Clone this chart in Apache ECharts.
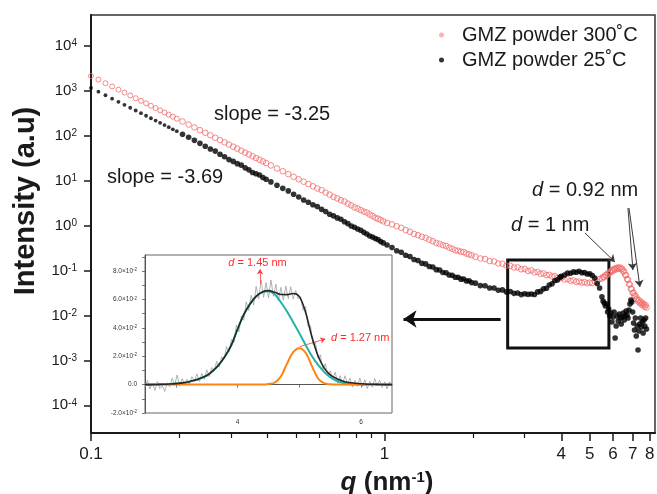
<!DOCTYPE html>
<html><head><meta charset="utf-8">
<script src="https://cdn.jsdelivr.net/npm/echarts@6.0.0/dist/echarts.min.js"></script>
<style>html,body{margin:0;padding:0;background:#fff}#c{width:657px;height:494px}</style>
</head><body><div id="c"></div>
<script>
// ---- main plot data: scattering vector q (nm^-1) and intensities (a.u.) ----
const q = [
  0.100,0.106,0.112,0.118,0.124,0.130,0.136,0.142,0.148,0.154,0.160,0.166,0.172,0.178,0.184,0.190,0.196,
  0.205,0.215,0.225,0.235,0.245,0.255,0.265,0.275,0.285,0.295,0.305,0.315,0.325,0.335,0.345,0.355,0.365,0.375,0.385,0.395,
  0.41,0.43,0.45,0.47,0.49,0.51,0.53,0.55,0.57,0.59,0.61,0.63,0.65,0.67,0.69,0.71,0.73,0.75,0.77,0.79,0.81,0.83,0.85,0.87,0.89,0.91,0.93,0.95,0.97,0.99,
  1.02,1.06,1.10,1.14,1.18,1.22,1.26,1.30,1.34,1.38,1.42,1.46,1.50,1.54,1.58,1.62,1.66,1.70,1.74,1.78,1.82,1.86,1.90,1.94,1.98,
  2.04,2.12,2.20,2.28,2.36,2.44,2.52,2.60,2.68,2.76,2.84,2.92,3.00,3.08,3.16,3.24,3.32,3.40,3.48,3.56,3.64,3.72,3.80,3.88,3.96,
  4.0,4.1,4.2,4.3,4.4,4.5,4.6,4.7,4.8,4.9,5.0,5.1,5.2,5.3,5.4,5.5,
  5.55,5.60,5.65,5.70,5.75,5.80,5.85,5.90,5.95,6.00,6.05,6.10,6.15,6.20,6.25,6.30,6.35,6.40,6.45,6.50,6.55,6.60,6.65,6.70,6.75,6.80,6.85,6.90,6.95,7.00,7.05,7.10,7.15,7.20,7.25,7.30,7.35,7.40,7.45,7.50,7.55,7.60,7.65,7.70,7.75,7.80
];
const intensity300 = [
  2160,1790,1490,1260,1070,920,794,690,603,531,468,416,370,331,297,268,242,
  209,179,155,134,117,103,90.9,80.6,71.8,64.1,57.5,51.8,46.8,42.4,38.6,35.1,32.1,29.4,27.0,24.8,
  22.0,18.8,16.3,14.1,12.3,10.8,9.55,8.47,7.54,6.74,6.20,5.45,4.92,4.38,4.05,3.69,3.46,3.09,2.84,2.55,2.41,2.22,2.06,1.96,1.77,1.65,1.50,1.43,1.34,1.25,
  1.15,1.07,0.970,0.900,0.802,0.731,0.655,0.614,0.566,0.536,0.488,0.452,0.412,0.393,0.368,0.354,0.324,0.306,0.284,0.277,0.264,0.258,0.240,0.229,0.220,
  0.203,0.186,0.181,0.163,0.160,0.144,0.142,0.129,0.128,0.117,0.118,0.107,0.109,0.0985,0.101,0.0915,0.0935,0.0850,0.0868,0.0790,0.0805,0.0738,0.0752,0.0688,0.0700,
  0.0690,0.0632,0.0645,0.0590,0.0605,0.0560,0.0572,0.0538,0.0556,0.0522,0.0540,0.0530,0.0575,0.0572,0.0650,0.0668,
  0.0725,0.0712,0.0790,0.0775,0.0860,0.0845,0.0940,0.0925,0.1030,0.0985,0.1090,0.1040,0.1140,0.1090,0.1180,0.1110,0.1170,0.1070,0.1100,0.0960,0.0965,0.0805,0.0790,0.0650,0.0625,0.0505,0.0490,0.0395,0.0385,0.0318,0.0322,0.0272,0.0278,0.0232,0.0240,0.0205,0.0218,0.0190,0.0204,0.0176,0.0190,0.0166,0.0178,0.0156,0.0170,0.0150
];
const intensity25 = [
  1170,963,803,675,574,491,423,367,320,281,247,219,195,174,156,140,127,
  109,93.3,79.6,68.2,58.9,51.1,45.8,39.1,34.4,29.6,27.0,24.1,22.3,19.4,17.5,15.3,14.3,13.4,11.8,10.8,
  9.45,7.98,6.79,5.95,5.02,4.36,3.72,3.33,2.93,2.66,2.31,2.06,1.80,1.65,1.49,1.39,1.22,1.11,0.985,0.922,0.843,0.790,0.711,0.654,0.590,0.558,0.516,0.490,0.444,0.414,
  0.371,0.325,0.276,0.256,0.219,0.206,0.176,0.168,0.145,0.141,0.123,0.120,0.105,0.103,0.0910,0.0895,0.0795,0.0785,0.0712,0.0712,0.0645,0.0648,0.0588,0.0592,0.0540,
  0.0525,0.0462,0.0458,0.0410,0.0410,0.0366,0.0371,0.0335,0.0341,0.0311,0.0318,0.0292,0.0305,0.0296,0.0300,0.0293,0.0335,0.0344,0.0392,0.0405,0.0476,0.0508,0.0595,0.0620,0.0712,
  0.0745,0.0798,0.0880,0.0872,0.0935,0.0915,0.0965,0.0895,0.0905,0.0842,0.0845,0.0775,0.0680,0.0515,0.0410,0.0262,
  0.0210,0.0190,0.0163,0.0180,0.0120,0.0140,0.00975,0.0114,0.00717,0.00927,0.0120,0.00315,0.00584,0.00975,0.00755,0.0108,0.00880,0.00647,0.00927,0.0114,0.00794,0.00975,0.0126,0.0103,0.00880,0.0133,0.0180,0.0221,0.0200,0.0120,0.00681,0.00475,0.00880,0.00349,0.00584,0.00171,0.00452,0.00647,0.00880,0.00555,0.00717,0.00408,0.00794,0.00584,0.00880,0.00501
];
const xLabelTicks = [0.1, 1, 4, 5, 6, 7, 8];
const xMinorTicks = [0.2, 0.3, 0.4, 0.5, 0.6, 0.7, 0.8, 0.9, 2, 3];
const yTicks = [1e-4, 1e-3, 1e-2, 1e-1, 1, 10, 100, 1000, 10000];
const seriesNames = ['GMZ powder 300˚C', 'GMZ powder 25˚C'];

// ---- inset data ----
const insetQ = [2.50,2.54,2.58,2.62,2.66,2.70,2.74,2.78,2.82,2.86,2.90,2.94,2.98,3.02,3.06,3.10,3.14,3.18,3.22,3.26,3.30,3.34,3.38,3.42,3.46,3.50,3.54,3.58,3.62,3.66,3.70,3.74,3.78,3.82,3.86,3.90,3.94,3.98,4.02,4.06,4.10,4.14,4.18,4.22,4.26,4.30,4.34,4.38,4.42,4.46,4.50,4.54,4.58,4.62,4.66,4.70,4.74,4.78,4.82,4.86,4.90,4.94,4.98,5.02,5.06,5.10,5.14,5.18,5.22,5.26,5.30,5.34,5.38,5.42,5.46,5.50,5.54,5.58,5.62,5.66,5.70,5.74,5.78,5.82,5.86,5.90,5.94,5.98,6.02,6.06,6.10,6.14,6.18,6.22,6.26,6.30,6.34,6.38,6.42,6.46,6.50];
const insetMeasured = [-0.0020,0.0030,-0.0030,0.0010,-0.0040,0.0021,-0.0029,-0.0008,-0.0048,0.0013,-0.0016,0.0045,-0.0004,0.0068,-0.0010,0.0042,0.0005,0.0038,0.0001,0.0056,0.0020,0.0076,0.0022,0.0079,0.0036,0.0104,0.0057,0.0120,0.0096,0.0164,0.0122,0.0196,0.0180,0.0268,0.0229,0.0320,0.0295,0.0420,0.0372,0.0483,0.0453,0.0583,0.0523,0.0629,0.0560,0.0692,0.0604,0.0737,0.0615,0.0718,0.0612,0.0737,0.0622,0.0707,0.0591,0.0685,0.0595,0.0694,0.0606,0.0689,0.0602,0.0663,0.0604,0.0618,0.0524,0.0550,0.0412,0.0414,0.0283,0.0299,0.0185,0.0210,0.0105,0.0148,0.0068,0.0098,0.0038,0.0088,0.0010,0.0063,0.0006,0.0062,0.0007,0.0044,-0.0018,0.0030,-0.0012,0.0047,-0.0014,0.0034,-0.0027,0.0023,-0.0018,0.0042,-0.0009,0.0031,-0.0019,0.0020,-0.0030,0.0020,-0.0010];
const fitQ = [2.5,2.6,2.7,2.8,2.9,3.0,3.1,3.2,3.3,3.4,3.5,3.6,3.7,3.8,3.9,4.0,4.1,4.2,4.3,4.4,4.5,4.6,4.7,4.8,4.9,5.0,5.1,5.2,5.3,5.4,5.5,5.6,5.7,5.8,5.9,6.0,6.1,6.2,6.3,6.4,6.5];
const fitTotal = [0,0,0.0001,0.0002,0.0004,0.0007,0.0012,0.0019,0.0030,0.0045,0.0064,0.0097,0.0142,0.0202,0.0280,0.0392,0.0493,0.0568,0.0622,0.0653,0.0662,0.0650,0.0635,0.0634,0.0642,0.0620,0.0510,0.0340,0.0205,0.0118,0.0068,0.0043,0.0026,0.0015,0.0010,0.0006,0.0003,0.0002,0.0001,0,0];
const fitPeak1 = [0,0,0.0001,0.0002,0.0004,0.0007,0.0012,0.0019,0.0030,0.0045,0.0064,0.0097,0.0142,0.0202,0.0280,0.0392,0.0493,0.0568,0.0622,0.0652,0.0658,0.0636,0.0580,0.0515,0.0440,0.0362,0.0280,0.0203,0.0140,0.0090,0.0052,0.0027,0.0013,0.0005,0.0002,0,0,0,0,0,0];
const fitPeak2 = [0,0,0,0,0,0,0,0,0,0,0,0,0,0,0,0,0,0,0,0,0.0004,0.0014,0.0057,0.0148,0.0228,0.0256,0.0225,0.0134,0.0045,0.0010,0.0002,0,0,0,0,0,0,0,0,0,0];
const insetYLabels = [-0.02, 0, 0.02, 0.04, 0.06, 0.08];
const insetYTicks = [-0.02, -0.01, 0, 0.01, 0.02, 0.03, 0.04, 0.05, 0.06, 0.07, 0.08, 0.09];
const insetXLabels = [4, 6];
const insetXTicks = [3, 4, 5, 6];

const FONT = '"Liberation Sans", Arial, Helvetica, sans-serif';
const INK = '#1a1a1a';

const pts300 = q.map((x, i) => [x, intensity300[i]]);
const pts25 = q.map((x, i) => [x, intensity25[i]]);
const pair = (xs, ys) => xs.map((x, i) => [x, ys[i]]);

const chart = echarts.init(document.getElementById('c'), null, {renderer: 'canvas', width: 657, height: 494});

const noMark = {label: {show: false}, emphasis: {disabled: true}, silent: true, animation: false};

const option = {
  animation: false,
  backgroundColor: '#fff',
  textStyle: {fontFamily: FONT},
  grid: [
    {left: 91, top: 15, width: 564, height: 418, show: true, borderColor: '#333', borderWidth: 1.5, backgroundColor: 'transparent', containLabel: false, outerBoundsMode: 'none'},
    {left: 145, top: 255, width: 247, height: 158, show: true, borderColor: '#666', borderWidth: 1, backgroundColor: '#fff', containLabel: false, outerBoundsMode: 'none'}
  ],
  legend: {
    data: [
      {name: seriesNames[0], icon: 'circle', itemStyle: {color: '#f7a0a0', borderWidth: 0}},
      {name: seriesNames[1], icon: 'circle', itemStyle: {color: '#000', borderWidth: 0}}
    ],
    orient: 'vertical', left: 434, top: 20, itemWidth: 5, itemHeight: 5, itemGap: 5,
    selectedMode: false,
    textStyle: {fontSize: 20, color: INK, fontFamily: FONT, padding: [0, 0, 0, 13]}
  },
  xAxis: [
    {
      type: 'log', gridIndex: 0, min: 0.1, max: 8.34, position: 'bottom',
      axisLine: {show: true, lineStyle: {color: INK, width: 2}},
      axisTick: {show: true, inside: false, length: 8, customValues: xLabelTicks, lineStyle: {color: INK, width: 1.5}},
      axisLabel: {customValues: xLabelTicks, margin: 13, fontSize: 17, color: INK, fontFamily: FONT,
        formatter: v => String(parseFloat(Number(v).toPrecision(3)))},
      splitLine: {show: false}, minorTick: {show: false}, minorSplitLine: {show: false},
      name: '{q|q}{n| (nm}{s|-1}{n|)}', nameLocation: 'middle', nameGap: 37,
      nameTextStyle: {padding: [0, 0, 0, 28], rich: {
        q: {fontSize: 26, fontWeight: 'bold', fontStyle: 'italic', fontFamily: FONT, color: INK},
        n: {fontSize: 26, fontWeight: 'bold', fontFamily: FONT, color: INK},
        s: {fontSize: 15, fontWeight: 'bold', fontFamily: FONT, color: INK, verticalAlign: 'top'}
      }}
    },
    {
      type: 'log', gridIndex: 0, min: 0.1, max: 8.34, position: 'bottom',
      axisLine: {show: false},
      axisTick: {show: true, inside: false, length: 5, customValues: xMinorTicks, lineStyle: {color: INK, width: 1.2}},
      axisLabel: {show: false}, splitLine: {show: false}
    },
    {
      type: 'value', gridIndex: 1, min: 2.5, max: 6.5, position: 'bottom',
      axisLine: {show: true, lineStyle: {color: '#555', width: 1}},
      axisTick: {show: true, inside: false, length: 3, customValues: insetXTicks, lineStyle: {color: '#555', width: 0.8}},
      axisLabel: {customValues: insetXLabels, margin: 6, fontSize: 6.5, color: '#333', fontFamily: FONT},
      splitLine: {show: false}
    }
  ],
  yAxis: [
    {
      type: 'log', gridIndex: 0, min: Math.pow(10, -4.617), max: Math.pow(10, 4.692),
      axisLine: {show: true, lineStyle: {color: INK, width: 2}},
      axisTick: {show: true, inside: false, length: 7, customValues: yTicks, lineStyle: {color: INK, width: 1.5}},
      axisLabel: {customValues: yTicks, margin: 14,
        formatter: v => '{b|10}{s|' + Math.round(Math.log10(v)) + '}',
        rich: {
          b: {fontSize: 15, fontFamily: FONT, color: INK},
          s: {fontSize: 10, fontFamily: FONT, color: INK, verticalAlign: 'top'}
        }},
      splitLine: {show: false}, minorTick: {show: false},
      name: 'Intensity (a.u)', nameLocation: 'middle', nameGap: 50,
      nameTextStyle: {fontSize: 29, fontWeight: 'bold', fontFamily: FONT, color: INK, padding: [0, 0, 0, 46]}
    },
    {
      type: 'value', gridIndex: 1, min: -0.02, max: 0.0913,
      axisLine: {show: true, lineStyle: {color: '#555', width: 1}},
      axisTick: {show: true, inside: false, length: 3, customValues: insetYTicks, lineStyle: {color: '#555', width: 0.8}},
      axisLabel: {customValues: insetYLabels, margin: 8,
        formatter: v => Math.abs(v) < 1e-9 ? '{b|0.0}' : '{b|' + (v * 100).toFixed(1) + '×10}{s|-2}',
        rich: {
          b: {fontSize: 6.5, fontFamily: FONT, color: '#333'},
          s: {fontSize: 4.5, fontFamily: FONT, color: '#333', verticalAlign: 'top'}
        }},
      splitLine: {show: false}
    }
  ],
  series: [
    {
      name: seriesNames[0], type: 'scatter', xAxisIndex: 0, yAxisIndex: 0, data: pts300,
      symbol: 'circle', symbolSize: v => (v[0] < 0.2 ? 5 : 5.6), silent: true, z: 2,
      itemStyle: {color: 'rgba(0,0,0,0)', borderColor: '#f26d6d', borderWidth: 1},
      markLine: Object.assign({}, noMark, {
        symbol: ['none', 'arrow'], symbolSize: 7,
        lineStyle: {color: '#3a3a3a', width: 1, type: 'solid'},
        data: [
          [{coord: [4.815, 0.688]}, {coord: [6.09, 0.155]}],
          [{coord: [6.745, 2.48]}, {coord: [7.015, 0.103]}],
          [{coord: [6.80, 2.48]}, {coord: [7.41, 0.0431]}]
        ]
      })
    },
    {
      name: seriesNames[1], type: 'scatter', xAxisIndex: 0, yAxisIndex: 0, data: pts25,
      symbol: 'circle', symbolSize: v => (v[0] < 0.2 ? 3.8 : 5.6), silent: true, z: 3,
      itemStyle: {color: '#000'},
      markArea: Object.assign({}, noMark, {
        itemStyle: {color: 'rgba(0,0,0,0)', borderColor: '#111', borderWidth: 3},
        data: [[{coord: [2.626, 0.172]}, {coord: [5.81, 0.00189]}]]
      }),
      markLine: Object.assign({}, noMark, {
        symbol: ['none', 'arrow'], symbolSize: 13,
        lineStyle: {color: '#111', width: 3, type: 'solid'},
        data: [[{coord: [2.485, 0.00836]}, {coord: [1.16, 0.00836]}]]
      })
    },
    {
      name: 'measured', type: 'line', xAxisIndex: 2, yAxisIndex: 1, data: pair(insetQ, insetMeasured),
      showSymbol: false, silent: true, z: 4, lineStyle: {color: '#a0a0a0', width: 0.8}
    },
    {
      name: 'peak 1', type: 'line', xAxisIndex: 2, yAxisIndex: 1, data: pair(fitQ, fitPeak1),
      showSymbol: false, silent: true, smooth: 0.35, z: 5, lineStyle: {color: '#22b3aa', width: 2}
    },
    {
      name: 'peak 2', type: 'line', xAxisIndex: 2, yAxisIndex: 1, data: pair(fitQ, fitPeak2),
      showSymbol: false, silent: true, smooth: 0.35, z: 6, lineStyle: {color: '#ff8412', width: 2}
    },
    {
      name: 'fit', type: 'line', xAxisIndex: 2, yAxisIndex: 1, data: pair(fitQ, fitTotal),
      showSymbol: false, silent: true, smooth: 0.35, z: 7, lineStyle: {color: '#262626', width: 1.6},
      markLine: Object.assign({}, noMark, {
        symbol: ['none', 'arrow'], symbolSize: 5,
        lineStyle: {color: '#ff3a3a', width: 0.8, type: 'solid'},
        data: [
          [{coord: [4.362, 0.0711]}, {coord: [4.362, 0.0812]}],
          [{coord: [5.01, 0.0268]}, {coord: [5.42, 0.0322]}]
        ]
      })
    }
  ],
  graphic: [
    {type: 'text', x: 214, y: 114, z: 100, silent: true,
      style: {text: 'slope = -3.25', fontSize: 20, fontFamily: FONT, fill: INK, align: 'left', verticalAlign: 'middle'}},
    {type: 'text', x: 107, y: 177, z: 100, silent: true,
      style: {text: 'slope = -3.69', fontSize: 20, fontFamily: FONT, fill: INK, align: 'left', verticalAlign: 'middle'}},
    {type: 'text', x: 532, y: 190, z: 100, silent: true,
      style: {text: '{i|d} = 0.92 nm', fontSize: 20, fontFamily: FONT, fill: INK, align: 'left', verticalAlign: 'middle',
        rich: {i: {fontSize: 20, fontStyle: 'italic', fontFamily: FONT, fill: INK}}}},
    {type: 'text', x: 511, y: 225, z: 100, silent: true,
      style: {text: '{i|d} = 1 nm', fontSize: 20, fontFamily: FONT, fill: INK, align: 'left', verticalAlign: 'middle',
        rich: {i: {fontSize: 20, fontStyle: 'italic', fontFamily: FONT, fill: INK}}}},
    {type: 'text', x: 257.5, y: 263, z: 100, silent: true,
      style: {text: '{i|d} = 1.45 nm', fontSize: 11, fontFamily: FONT, fill: '#ff2a2a', align: 'center', verticalAlign: 'middle',
        rich: {i: {fontSize: 11, fontStyle: 'italic', fontFamily: FONT, fill: '#ff2a2a'}}}},
    {type: 'text', x: 331, y: 338, z: 100, silent: true,
      style: {text: '{i|d} = 1.27 nm', fontSize: 11, fontFamily: FONT, fill: '#ff2a2a', align: 'left', verticalAlign: 'middle',
        rich: {i: {fontSize: 11, fontStyle: 'italic', fontFamily: FONT, fill: '#ff2a2a'}}}}
  ]
};
chart.setOption(option);
</script>
</body></html>
